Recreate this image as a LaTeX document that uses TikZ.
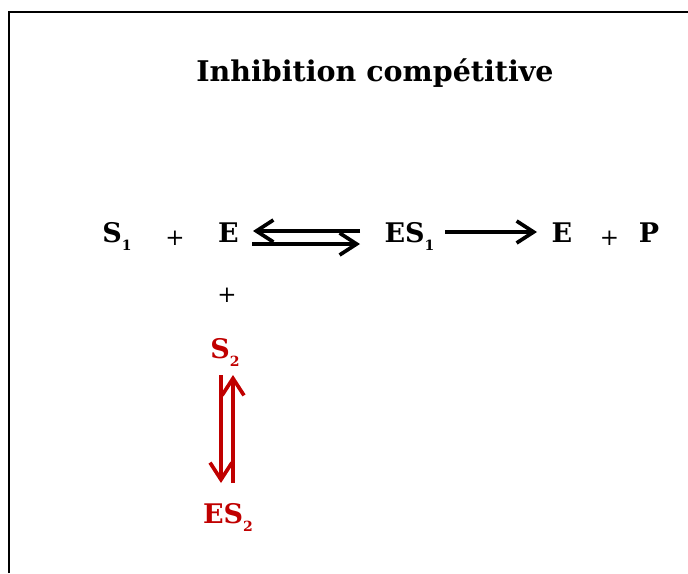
\documentclass[tikz,border=0pt]{standalone}
\usepackage{fontspec}
\setmainfont{DejaVu Serif}
\usepackage{tikz}
\usetikzlibrary{arrows.meta, positioning}
\usepackage{xcolor}
\definecolor{inhred}{HTML}{C00000}
\newcommand{\chsub}[1]{\raisebox{-8pt}{\fontsize{14}{14}\selectfont #1}}

\begin{document}
\begin{tikzpicture}[
      x=1pt, y=-1pt,
      species/.style={inner sep=0pt, anchor=base,
                      font=\fontsize{27}{32}\selectfont\bfseries},
      plus/.style={inner sep=0pt, font=\fontsize{23}{27}\selectfont},
      arr/.style={-{Straight Barb[length=17pt, width=22pt]}, line width=3.7pt},
      inhib/.style={arr, draw=inhred},
      frame/.style={line width=2.6pt}
    ]
    \useasboundingbox (0,0) rectangle (688,573);
    \draw[frame] (9,573) -- (9,12) -- (688,12);
    \node[species, font=\fontsize{28.5}{33}\selectfont\bfseries] (title) at (375,81) {Inhibition compétitive};
    % main reaction
    \node[species] (s1)  at (117,242)   {S\chsub{1}};
    \node[plus]    (pl1) at (175,238.5) {+};
    \node[species] (e1)  at (228.5,242) {E};
    \node[species] (es1) at (409.5,242) {ES\chsub{1}};
    \node[species] (e2)  at (562,242)   {E};
    \node[plus]    (pl2) at (609.5,238) {+};
    \node[species] (p)   at (649,242)   {P};
    % inhibitor
    \node[plus]    (pl3) at (227,295)   {+};
    \node[species, text=inhred] (s2)  at (225,358) {S\chsub{2}};
    \node[species, text=inhred] (es2) at (228,523) {ES\chsub{2}};
    \draw[arr] ([xshift=-49.5pt,yshift=11pt]es1.base) -- ([xshift=24.5pt,yshift=11pt]e1.base);
    \draw[arr] ([xshift=23.5pt,yshift=-2pt]e1.base) -- ([xshift=-49.5pt,yshift=-2pt]es1.base);
    \draw[arr] ([xshift=35.5pt,yshift=10pt]es1.base) -- ([xshift=-25pt,yshift=10pt]e2.base);
    \draw[inhib] ([xshift=-4pt,yshift=-17pt]s2.base) -- ([xshift=-7pt,yshift=40pt]es2.base);
    \draw[inhib] ([xshift=5pt,yshift=40pt]es2.base) -- ([xshift=8pt,yshift=-17pt]s2.base);
  \end{tikzpicture}
\end{document}
